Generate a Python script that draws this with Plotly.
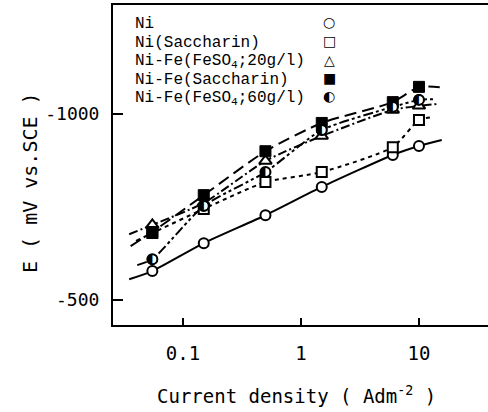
import plotly.graph_objects as go

# Current density (A dm^-2) of the measured points
cd = [0.055, 0.15, 0.5, 1.5, 6, 10]

# Potential E (mV vs. SCE) for each deposit
E_ni = [-578, -653, -728, -804, -890, -914]
E_ni_sac = [-680, -745, -817, -844, -911, -984]
E_nife20 = [-702, -761, -874, -941, -1011, -1022]
E_nife_sac = [-683, -782, -900, -976, -1032, -1073]
E_nife60 = [-610, -753, -844, -957, -1019, -1038]

# Ends of the drawn fit curves, one per series
fit_lo_cd = [0.035, 0.040, 0.035, 0.036, 0.041]
fit_lo_E = [-556, -659, -677, -645, -594]
fit_hi_cd = [15.6, 13.2, 14.5, 15.0, 13.6]
fit_hi_E = [-930, -992, -1027, -1072, -1040]

series_names = ["Ni", "Ni(Saccharin)", "Ni-Fe(FeSO<sub>4</sub>;20g/l)",
                "Ni-Fe(Saccharin)", "Ni-Fe(FeSO<sub>4</sub>;60g/l)"]
series_E = [E_ni, E_ni_sac, E_nife20, E_nife_sac, E_nife60]
legend_glyphs = ["○", "□", "△", "■", "◐"]

x_ticks = [0.1, 1, 10]
x_ticktext = ["0.1", "1", "10"]
y_ticks = [-1000, -500]
y_ticktext = ["-1000", "-500"]

dashes = ["solid", "4px,4px", "9px,3px,2px,3px", "12px,6px", "10px,3px,3px,3px,3px,3px"]
markers = [
    dict(symbol="circle", size=10, color="white", line=dict(color="black", width=2)),
    dict(symbol="square", size=10, color="white", line=dict(color="black", width=2)),
    dict(symbol="triangle-up", size=11, color="white", line=dict(color="black", width=2)),
    dict(symbol="square", size=11, color="black", line=dict(color="black", width=1)),
    None,
]

fig = go.Figure()
for i, E in enumerate(series_E):
    xs = [fit_lo_cd[i]] + cd + [fit_hi_cd[i]]
    ys = [fit_lo_E[i]] + E + [fit_hi_E[i]]
    fig.add_trace(go.Scatter(x=xs, y=ys, mode="lines",
                             line=dict(color="black", width=2, dash=dashes[i],
                                       shape="spline", smoothing=0.6),
                             hoverinfo="skip"))
for i, E in enumerate(series_E):
    if markers[i] is not None:
        fig.add_trace(go.Scatter(x=cd, y=E, mode="markers", marker=markers[i]))
    else:
        fig.add_trace(go.Scatter(x=cd, y=E, mode="markers",
                                 marker=dict(symbol="circle", size=10, color="white",
                                             line=dict(color="black", width=2))))
        fig.add_trace(go.Scatter(x=cd, y=E, mode="text", text=["<b>◐</b>"] * len(cd),
                                 textposition="middle center",
                                 textfont=dict(family="DejaVu Sans", size=14, color="black")))

# legend drawn as text (labels left, symbols right, as in the original)
L, R, T, B = 113, 488, 5, 325
def px(xp):
    return (xp - L) / (R - L)
def py(yp):
    return (B - yp) / (B - T)

row_y = [24, 43, 62, 80, 98]
for i, name in enumerate(series_names):
    fig.add_annotation(x=px(133), y=py(row_y[i]), xref="paper", yref="paper",
                       text=name, showarrow=False, xanchor="left", yanchor="middle",
                       font=dict(family="Liberation Mono", size=16, color="black"))
    fig.add_annotation(x=px(329), y=py(row_y[i] - 2), xref="paper", yref="paper",
                       text="<b>" + legend_glyphs[i] + "</b>", showarrow=False,
                       xanchor="center", yanchor="middle",
                       font=dict(family="DejaVu Sans", size=14, color="black"))

fig.add_annotation(x=px(30), y=py(183), xref="paper", yref="paper",
                   text="E ( mV vs.SCE )", textangle=-90, showarrow=False,
                   xanchor="center", yanchor="middle",
                   font=dict(family="DejaVu Sans Mono", size=20, color="black"))
fig.add_annotation(x=px(296), y=py(395), xref="paper", yref="paper",
                   text="Current density ( Adm<sup>-2</sup> )", showarrow=False,
                   xanchor="center", yanchor="middle",
                   font=dict(family="DejaVu Sans Mono", size=19, color="black"))

fig.update_layout(
    width=488, height=412,
    margin=dict(l=L, r=488 - R, t=T, b=412 - B),
    plot_bgcolor="white", paper_bgcolor="white",
    showlegend=False,
)
fig.update_xaxes(type="log", range=[-1.593, 1.585], showline=True, linecolor="black",
                 linewidth=2, mirror=True, ticks="inside", ticklen=7, tickwidth=2,
                 tickcolor="black", tickvals=x_ticks, ticktext=x_ticktext,
                 tickfont=dict(family="DejaVu Sans Mono", size=19, color="black"),
                 ticklabelstandoff=10, showgrid=False, zeroline=False)
fig.update_yaxes(range=[-433, -1293], showline=True, linecolor="black", linewidth=2,
                 mirror=False, ticks="inside", ticklen=10, tickwidth=2, tickcolor="black",
                 tickvals=y_ticks, ticktext=y_ticktext,
                 tickfont=dict(family="DejaVu Sans Mono", size=18, color="black"),
                 ticklabelstandoff=8, showgrid=False, zeroline=False)

fig.write_html("out.html")
